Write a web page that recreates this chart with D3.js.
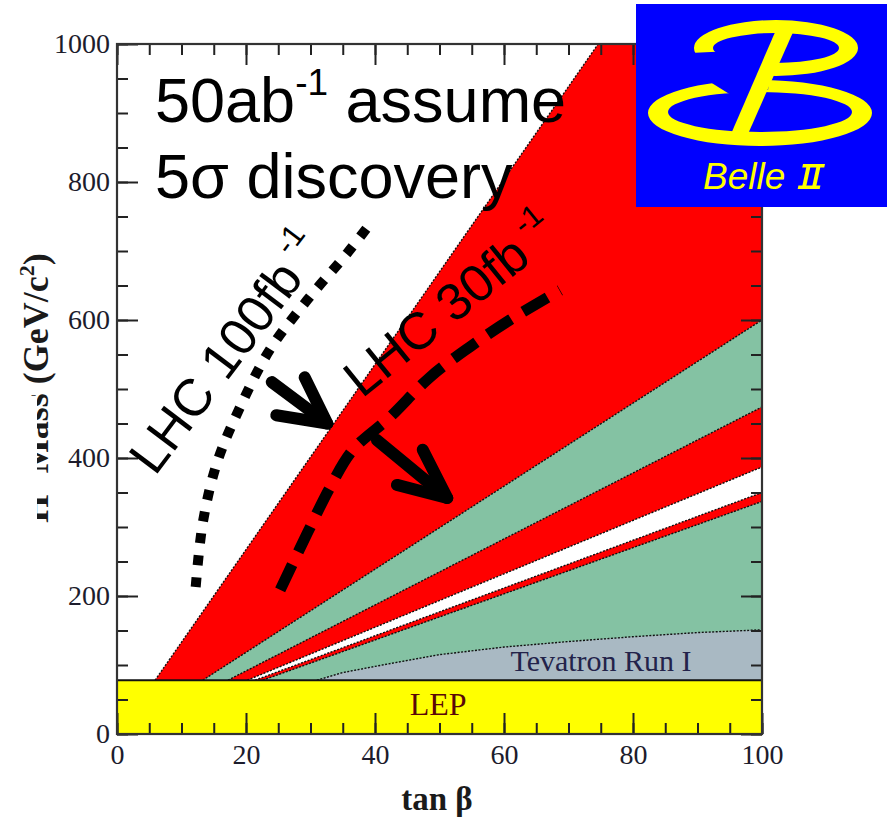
<!DOCTYPE html>
<html>
<head>
<meta charset="utf-8">
<style>
body { margin: 0; background: #fff; }
svg { display: block; }
</style>
</head>
<body>
<script src="https://d3js.org/d3.v7.min.js"></script>
<script>
// axis ticks
var xMajor = [0, 20, 40, 60, 80, 100];
var xMinor = d3.range(0, 101, 5);
var yMajor = [0, 200, 400, 600, 800, 1000];
var yMinor = d3.range(0, 1001, 50);

// LEP exclusion (mass below this)
var lepLimit = 78;

// band edges, [tan beta, mass]
var edgeWhiteRed   = [[5.9, 78], [74.6, 1000]];
var edgeRedGreen   = [[13.3, 78], [100, 600]];
var edgeGreenRed   = [[17.2, 78], [100, 474]];
var edgeRedWhite   = [[20.2, 78], [100, 387]];
var edgeWhiteRed2  = [[21.4, 78], [100, 350]];
var edgeRedGreen2  = [[22.6, 78], [100, 337]];
var edgeTevatron   = [[31, 78], [35, 89], [40, 98], [50, 115], [60, 126], [70, 134], [80, 141], [90, 147], [100, 151]];

// LHC reach curves + arrows (annotations)
var lhc100 = [[12.2, 213], [13.3, 306], [15.5, 393], [19.1, 474], [23.7, 557], [29.5, 629], [35.7, 697], [39.7, 745]];
var lhc30 = [[25.3, 209], [29.5, 291], [33.0, 357], [36.6, 412], [42.3, 459], [48.5, 517], [54.7, 561], [60.9, 600], [68.7, 643]];
var arrow100 = [[24.0, 510], [32.6, 450]];
var arrow100Head = [[29.1, 517], [32.6, 450], [24.7, 462]];
var arrow30 = [[40.3, 426], [51.2, 342]];
var arrow30Head = [[47.4, 412], [51.2, 342], [43.4, 361]];

var width = 887, height = 819;
var red = "#ff0000", green = "#84c2a3", grey = "#a9b9c3", yellow = "#ffff00";

var svg = d3.select("body").append("svg")
  .attr("width", width)
  .attr("height", height);

svg.append("rect").attr("width", width).attr("height", height).attr("fill", "#fff");

var x = d3.scaleLinear().domain([0, 100]).range([117, 762]);
var y = d3.scaleLinear().domain([0, 1000]).range([734, 44]);

svg.append("clipPath").attr("id", "plot")
  .append("rect")
  .attr("x", x(0)).attr("y", y(1000))
  .attr("width", x(100) - x(0)).attr("height", y(0) - y(1000));

var line = d3.line().x(d => x(d[0])).y(d => y(d[1]));

// close a band polygon down to the lower right corner
function band(edge) {
  var pts = edge.slice();
  var last = pts[pts.length - 1];
  if (last[1] >= 1000) pts.push([100, 1000]);
  pts.push([100, lepLimit]);
  return pts;
}

var layers = [
  {edge: edgeWhiteRed,  fill: red},
  {edge: edgeRedGreen,  fill: green},
  {edge: edgeGreenRed,  fill: red},
  {edge: edgeRedWhite,  fill: "#fff"},
  {edge: edgeWhiteRed2, fill: red},
  {edge: edgeRedGreen2, fill: green},
  {edge: edgeTevatron,  fill: grey}
];

var g = svg.append("g").attr("clip-path", "url(#plot)");

g.selectAll("path.band")
  .data(layers)
  .enter().append("path")
  .attr("class", "band")
  .attr("d", d => line(band(d.edge)) + "Z")
  .attr("fill", d => d.fill);

g.selectAll("path.edge")
  .data(layers)
  .enter().append("path")
  .attr("class", "edge")
  .attr("d", d => line(d.edge))
  .attr("fill", "none")
  .attr("stroke", "#111")
  .attr("stroke-width", 1.4)
  .attr("stroke-dasharray", "2,1.5");

// LEP
g.append("rect")
  .attr("x", x(0)).attr("y", y(lepLimit))
  .attr("width", x(100) - x(0)).attr("height", y(0) - y(lepLimit))
  .attr("fill", yellow);
g.append("line")
  .attr("x1", x(0)).attr("x2", x(100))
  .attr("y1", y(lepLimit)).attr("y2", y(lepLimit))
  .attr("stroke", "#111").attr("stroke-width", 2);

var serif = "Liberation Serif, Times New Roman, serif";
var sans = "Liberation Sans, Arial, sans-serif";

g.append("text")
  .attr("x", x(49.8)).attr("y", 715)
  .attr("text-anchor", "middle")
  .attr("font-family", serif).attr("font-size", 32)
  .attr("fill", "#5a0808")
  .text("LEP");

g.append("text")
  .attr("x", 601).attr("y", 671)
  .attr("text-anchor", "middle")
  .attr("font-family", serif).attr("font-size", 30)
  .attr("fill", "#23234a")
  .text("Tevatron Run I");

// ticks, all pointing inward
function ticks(axis, vals, size, tx) {
  var a = svg.append("g")
    .attr("transform", tx)
    .call(axis.tickValues(vals).tickSize(-size).tickFormat(""));
  a.select(".domain").remove();
  a.selectAll("line").attr("stroke", "#222").attr("stroke-width", 2);
  return a;
}
ticks(d3.axisLeft(y), yMinor, 11, `translate(${x(0)},0)`);
ticks(d3.axisLeft(y), yMajor, 21, `translate(${x(0)},0)`);
ticks(d3.axisRight(y), yMinor, 11, `translate(${x(100)},0)`);
ticks(d3.axisRight(y), yMajor, 21, `translate(${x(100)},0)`);
ticks(d3.axisBottom(x), xMinor, 11, `translate(0,${y(0)})`);
ticks(d3.axisBottom(x), xMajor, 21, `translate(0,${y(0)})`);
ticks(d3.axisTop(x), xMinor, 11, `translate(0,${y(1000)})`);
ticks(d3.axisTop(x), xMajor, 21, `translate(0,${y(1000)})`);

// frame
svg.append("rect")
  .attr("x", x(0)).attr("y", y(1000))
  .attr("width", x(100) - x(0)).attr("height", y(0) - y(1000))
  .attr("fill", "none").attr("stroke", "#333").attr("stroke-width", 2.2);

// tick labels
var yl = svg.append("g")
  .attr("transform", `translate(${x(0)},0)`)
  .call(d3.axisLeft(y).tickValues(yMajor).tickFormat(d3.format("d")).tickSize(0).tickPadding(7));
var xl = svg.append("g")
  .attr("transform", `translate(0,${y(0)})`)
  .call(d3.axisBottom(x).tickValues(xMajor).tickFormat(d3.format("d")).tickSize(0).tickPadding(10));
[yl, xl].forEach(function(a) {
  a.select(".domain").remove();
  a.selectAll("text")
    .attr("font-family", serif).attr("font-size", 28)
    .attr("fill", "#1c1c2c");
});

// axis titles
svg.append("text")
  .attr("x", 437).attr("y", 810)
  .attr("text-anchor", "middle")
  .attr("font-family", serif).attr("font-size", 33).attr("font-weight", "bold")
  .attr("fill", "#1a1a1a")
  .text("tan β");

var yt = svg.append("text")
  .attr("transform", "translate(48,388) rotate(-90)")
  .attr("text-anchor", "middle")
  .attr("font-family", serif).attr("font-size", 36).attr("font-weight", "bold")
  .attr("fill", "#1a1a1a");
yt.append("tspan").text("H");
yt.append("tspan").attr("font-size", 22).attr("dy", -14).text("+");
yt.append("tspan").attr("dy", 14).text(" Mass (GeV/c");
yt.append("tspan").attr("font-size", 22).attr("dy", -14).text("2");
yt.append("tspan").attr("dy", 14).text(")");

// white box of the overlay hides part of the title
svg.append("rect")
  .attr("x", 0).attr("y", 396).attr("width", 37).attr("height", 140)
  .attr("fill", "#fff");

// LHC curves
svg.append("path")
  .attr("d", d3.line().curve(d3.curveCatmullRom).x(d => x(d[0])).y(d => y(d[1]))(lhc100))
  .attr("fill", "none").attr("stroke", "#000").attr("stroke-width", 10)
  .attr("stroke-dasharray", "10,12");
svg.append("path")
  .attr("d", d3.line().curve(d3.curveCatmullRom).x(d => x(d[0])).y(d => y(d[1]))(lhc30))
  .attr("fill", "none").attr("stroke", "#000").attr("stroke-width", 11)
  .attr("stroke-dasharray", "28,14");

[arrow100, arrow100Head, arrow30, arrow30Head].forEach(function(a) {
  svg.append("path")
    .attr("d", line(a))
    .attr("fill", "none").attr("stroke", "#000").attr("stroke-width", 12)
    .attr("stroke-linecap", "round").attr("stroke-linejoin", "round");
});

function lhcLabel(tx, main) {
  var t = svg.append("text")
    .attr("transform", tx)
    .attr("font-family", sans).attr("font-size", 52).attr("fill", "#000");
  t.append("tspan").text(main);
  t.append("tspan").attr("font-size", 31).attr("dy", -25).text(" -1");
}
lhcLabel("translate(155,477) rotate(-53)", "LHC 100fb");
lhcLabel("translate(362,399) rotate(-39)", "LHC 30fb");

// headline
var h1 = svg.append("text")
  .attr("x", 155).attr("y", 122)
  .attr("font-family", sans).attr("font-size", 63).attr("fill", "#000");
h1.append("tspan").text("50ab");
h1.append("tspan").attr("font-size", 37).attr("dy", -27).text("-1");
h1.append("tspan").attr("dy", 27).text(" assume");
svg.append("text")
  .attr("x", 155).attr("y", 198)
  .attr("font-family", sans).attr("font-size", 63).attr("fill", "#000")
  .text("5σ discovery");

// Belle II logo
function ellipse(cx, cy, rx, ry) {
  return `M${cx - rx},${cy}a${rx},${ry} 0 1,0 ${2 * rx},0a${rx},${ry} 0 1,0 ${-2 * rx},0Z`;
}
var logo = svg.append("g");
logo.append("rect").attr("x", 636).attr("y", 4).attr("width", 251).attr("height", 203).attr("fill", "#0000ff");
logo.append("path")
  .attr("d", ellipse(776, 48, 82, 28) + ellipse(776, 48, 63, 15))
  .attr("fill", yellow).attr("fill-rule", "evenodd");
logo.append("path")
  .attr("d", ellipse(760, 113, 112, 33) + ellipse(760, 112, 92, 20))
  .attr("fill", yellow).attr("fill-rule", "evenodd");
logo.append("path").attr("d", "M775,49L690,53L690,78L768,90Z").attr("fill", "#0000ff");
logo.append("path").attr("d", "M760,113L694,72L772,70Z").attr("fill", "#0000ff");
logo.append("path").attr("d", "M776,30L794,30L748,134L731,134Z").attr("fill", yellow);
logo.append("text")
  .attr("x", 703).attr("y", 189)
  .attr("font-family", sans).attr("font-style", "italic").attr("font-size", 37)
  .attr("fill", yellow)
  .text("Belle");
// roman two, slanted
var two = logo.append("g").attr("transform", "translate(803,164) skewX(-12)").attr("fill", yellow);
two.append("rect").attr("x", 0).attr("y", 0).attr("width", 22).attr("height", 3.5);
two.append("rect").attr("x", 0).attr("y", 21.5).attr("width", 22).attr("height", 3.5);
two.append("rect").attr("x", 4).attr("y", 0).attr("width", 4).attr("height", 25);
two.append("rect").attr("x", 14).attr("y", 0).attr("width", 4).attr("height", 25);
</script>
</body>
</html>
